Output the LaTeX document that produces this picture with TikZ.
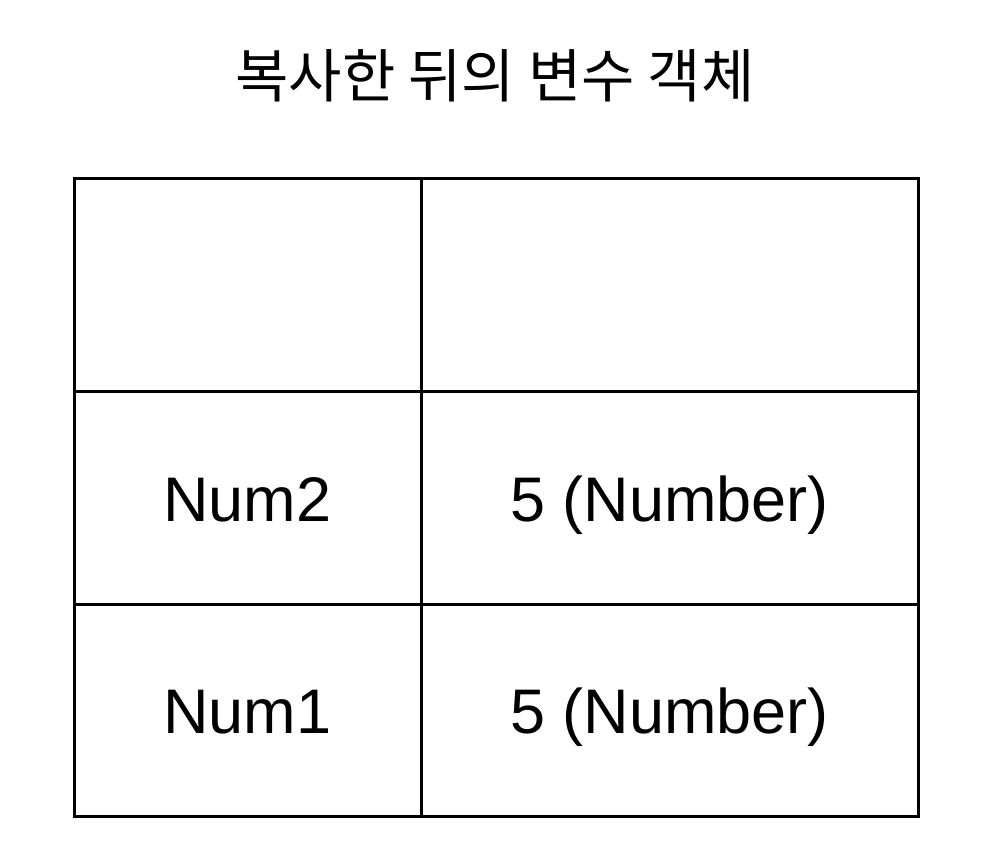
\documentclass[tikz,border=0pt]{standalone}
\usepackage{fontspec}
\setmainfont{Liberation Sans}
\newfontfamily\kr{Noto Sans CJK KR}
\begin{document}
\begin{tikzpicture}[x=1pt,y=-1pt,
  cell/.style={draw=black,line width=3pt,minimum width=#1,minimum height=212.5pt,anchor=north west,inner sep=0pt,outer sep=0pt},
  txt/.style={anchor=base,inner sep=0pt,font=\fontsize{63}{63}\selectfont},
]
\useasboundingbox[fill=white] (0,0) rectangle (994,850);
\node[font=\kr\fontsize{58}{58}\selectfont] (title) at (495,76) {복사한 뒤의 변수 객체};
\node[cell=347pt] (a1) at (74,179) {};
\node[cell=497pt] (b1) at (421,179) {};
\node[cell=347pt] (a2) at (74,391.5) {};
\node[cell=497pt] (b2) at (421,391.5) {};
\node[cell=347pt] (a3) at (74,604) {};
\node[cell=497pt] (b3) at (421,604) {};
\node[txt] (t2a) at (247.5,521) {Num2};
\node[txt] (t2b) at (669.5,521) {5 (Number)};
\node[txt] (t3a) at (247.5,733) {Num1};
\node[txt] (t3b) at (669.5,733) {5 (Number)};
\end{tikzpicture}
\end{document}
